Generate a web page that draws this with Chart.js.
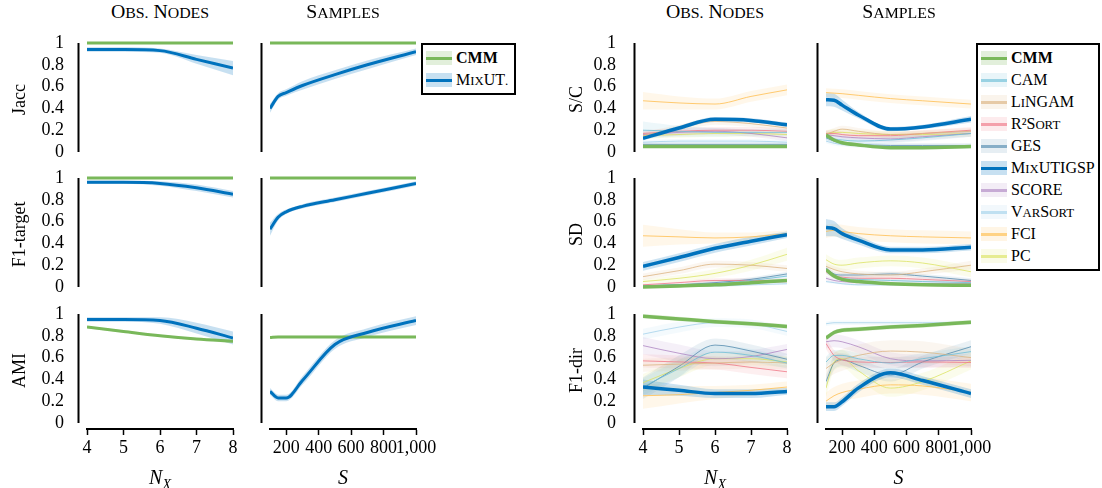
<!DOCTYPE html>
<html>
<head>
<meta charset="utf-8">
<script src="https://cdn.jsdelivr.net/npm/chart.js@4.4.1/dist/chart.umd.min.js"></script>
<style>
  body { margin: 0; background: #fff; width: 1102px; height: 488px; overflow: hidden; position: relative; font-family: "Liberation Serif", serif; color: #000; }
  canvas { position: absolute; }
  .sc { font-size: 80%; text-transform: uppercase; }
  .hdr { position: absolute; top: 2px; line-height: 20px; font-size: 18px; transform: translateX(-50%) scaleX(1.1); white-space: nowrap; }
  .xt { position: absolute; top: 466px; line-height: 22px; font-size: 20px; font-style: italic; transform: translateX(-50%); white-space: nowrap; }
  .xt sub { font-size: 14px; vertical-align: -5px; }
  .lg { position: absolute; border: 2.5px solid #000; background: #fff; box-sizing: border-box; }
  .it { position: absolute; height: 22px; left: 0; right: 0; font-size: 16px; line-height: 22px; white-space: nowrap; }
  .sw { position: absolute; top: 4px; height: 14px; }
  .sw .ln { position: absolute; left: 0; right: 0; top: 5.5px; height: 3px; }
  .it > span { position: absolute; }
</style>
</head>
<body>
<script>
// x values
const nodes = [4, 5, 6, 7, 8];
const samples = [100, 150, 200, 300, 500, 700, 1000];

// tick labels
const yTicks = [0, 0.2, 0.4, 0.6, 0.8, 1];
const yTickLabels = ["0", "0.2", "0.4", "0.6", "0.8", "1"];
const nodeTicks = [4, 5, 6, 7, 8];
const nodeTickLabels = ["4", "5", "6", "7", "8"];
const sampleTicks = [200, 400, 600, 800, 1000];
const sampleTickLabels = ["200", "400", "600", "800", "1,000"];

// left group: CMM vs MixUT.
const leftNames = ["CMM", "MixUT."];
const jaccNodesCMM = [1, 1, 1, 1, 1];
const jaccNodesMix = [0.94, 0.94, 0.93, 0.85, 0.77];
const jaccNodesMixErr = [0.02, 0.02, 0.02, 0.04, 0.065];
const jaccSamplesCMM = [1, 1, 1, 1, 1, 1, 1];
const jaccSamplesMix = [0.40, 0.51, 0.545, 0.61, 0.71, 0.80, 0.92];
const jaccSamplesMixErr = [0.04, 0.03, 0.03, 0.04, 0.04, 0.04, 0.03];

const f1tNodesCMM = [1, 1, 1, 1, 1];
const f1tNodesMix = [0.96, 0.96, 0.95, 0.91, 0.85];
const f1tNodesMixErr = [0.015, 0.015, 0.02, 0.03, 0.03];
const f1tSamplesCMM = [1, 1, 1, 1, 1, 1, 1];
const f1tSamplesMix = [0.53, 0.64, 0.69, 0.74, 0.80, 0.86, 0.95];
const f1tSamplesMixErr = [0.06, 0.03, 0.02, 0.02, 0.02, 0.02, 0.02];

const amiNodesCMM = [0.88, 0.84, 0.80, 0.77, 0.75];
const amiNodesMix = [0.95, 0.95, 0.94, 0.87, 0.78];
const amiNodesMixErr = [0.02, 0.02, 0.03, 0.05, 0.06];
const amiSamplesCMM = [0.785, 0.79, 0.79, 0.79, 0.79, 0.79, 0.79];
const amiSamplesMix = [0.29, 0.23, 0.23, 0.39, 0.72, 0.83, 0.94];
const amiSamplesMixErr = [0.03, 0.03, 0.03, 0.04, 0.04, 0.04, 0.04];

// right group: all methods, rows follow rightNames
const rightNames = ["CMM", "CAM", "LiNGAM", "R²Sort", "GES", "MixUTIGSP", "SCORE", "VarSort", "FCI", "PC"];

const scNodes = [
  [0.05, 0.05, 0.05, 0.05, 0.05],
  [0.20, 0.19, 0.18, 0.18, 0.18],
  [0.15, 0.22, 0.28, 0.26, 0.22],
  [0.17, 0.19, 0.20, 0.20, 0.19],
  [0.07, 0.07, 0.07, 0.07, 0.07],
  [0.125, 0.22, 0.30, 0.29, 0.25],
  [0.16, 0.18, 0.19, 0.17, 0.13],
  [0.09, 0.10, 0.10, 0.10, 0.09],
  [0.47, 0.45, 0.44, 0.51, 0.57],
  [0.15, 0.16, 0.17, 0.17, 0.16]
];
const scNodesErr = [
  [0.01, 0.01, 0.01, 0.01, 0.01],
  [0.08, 0.05, 0.04, 0.03, 0.03],
  [0.03, 0.03, 0.03, 0.03, 0.03],
  [0.03, 0.03, 0.03, 0.03, 0.03],
  [0.02, 0.02, 0.02, 0.02, 0.02],
  [0.02, 0.02, 0.02, 0.02, 0.02],
  [0.03, 0.03, 0.03, 0.03, 0.03],
  [0.02, 0.02, 0.02, 0.02, 0.02],
  [0.08, 0.06, 0.05, 0.05, 0.05],
  [0.03, 0.03, 0.03, 0.03, 0.03]
];
const scSamples = [
  [0.155, 0.11, 0.085, 0.065, 0.04, 0.04, 0.05],
  [0.14, 0.12, 0.11, 0.10, 0.11, 0.13, 0.17],
  [0.16, 0.19, 0.21, 0.19, 0.16, 0.17, 0.19],
  [0.17, 0.17, 0.16, 0.15, 0.15, 0.17, 0.20],
  [0.13, 0.10, 0.08, 0.07, 0.06, 0.06, 0.06],
  [0.48, 0.475, 0.43, 0.34, 0.21, 0.23, 0.30],
  [0.16, 0.15, 0.14, 0.13, 0.12, 0.14, 0.17],
  [0.10, 0.08, 0.07, 0.06, 0.05, 0.05, 0.05],
  [0.545, 0.54, 0.535, 0.52, 0.49, 0.47, 0.44],
  [0.17, 0.18, 0.18, 0.17, 0.16, 0.16, 0.17]
];
const scSamplesErr = [
  [0.01, 0.01, 0.01, 0.01, 0.01, 0.01, 0.01],
  [0.03, 0.03, 0.03, 0.03, 0.03, 0.03, 0.03],
  [0.03, 0.03, 0.03, 0.03, 0.03, 0.03, 0.03],
  [0.03, 0.03, 0.03, 0.03, 0.03, 0.03, 0.03],
  [0.02, 0.02, 0.02, 0.02, 0.02, 0.02, 0.02],
  [0.06, 0.06, 0.05, 0.03, 0.02, 0.02, 0.03],
  [0.03, 0.03, 0.03, 0.03, 0.03, 0.03, 0.03],
  [0.02, 0.02, 0.02, 0.02, 0.02, 0.02, 0.02],
  [0.04, 0.04, 0.04, 0.04, 0.04, 0.04, 0.04],
  [0.03, 0.03, 0.03, 0.03, 0.03, 0.03, 0.03]
];

const sdNodes = [
  [0.00, 0.01, 0.02, 0.04, 0.06],
  [0.01, 0.02, 0.03, 0.06, 0.10],
  [0.095, 0.15, 0.21, 0.20, 0.17],
  [0.02, 0.04, 0.06, 0.06, 0.06],
  [0.01, 0.02, 0.04, 0.07, 0.12],
  [0.19, 0.27, 0.355, 0.42, 0.48],
  [0.01, 0.02, 0.03, 0.04, 0.05],
  [0.00, 0.01, 0.01, 0.02, 0.03],
  [0.47, 0.46, 0.45, 0.46, 0.49],
  [0.05, 0.08, 0.125, 0.20, 0.30]
];
const sdNodesErr = [
  [0.01, 0.01, 0.01, 0.01, 0.01],
  [0.01, 0.01, 0.02, 0.02, 0.02],
  [0.03, 0.03, 0.03, 0.03, 0.03],
  [0.01, 0.01, 0.02, 0.02, 0.02],
  [0.01, 0.01, 0.02, 0.02, 0.02],
  [0.04, 0.04, 0.04, 0.04, 0.03],
  [0.01, 0.01, 0.01, 0.01, 0.01],
  [0.01, 0.01, 0.01, 0.01, 0.01],
  [0.10, 0.07, 0.05, 0.04, 0.03],
  [0.02, 0.03, 0.04, 0.05, 0.06]
];
const sdSamples = [
  [0.16, 0.10, 0.07, 0.05, 0.03, 0.02, 0.015],
  [0.15, 0.10, 0.08, 0.07, 0.06, 0.05, 0.04],
  [0.19, 0.16, 0.14, 0.12, 0.11, 0.14, 0.20],
  [0.14, 0.10, 0.09, 0.08, 0.08, 0.07, 0.05],
  [0.17, 0.12, 0.11, 0.11, 0.12, 0.10, 0.06],
  [0.545, 0.535, 0.49, 0.43, 0.34, 0.34, 0.365],
  [0.08, 0.06, 0.05, 0.04, 0.03, 0.03, 0.03],
  [0.05, 0.04, 0.03, 0.02, 0.02, 0.02, 0.01],
  [0.51, 0.52, 0.51, 0.49, 0.47, 0.46, 0.45],
  [0.25, 0.21, 0.20, 0.22, 0.24, 0.22, 0.14]
];
const sdSamplesErr = [
  [0.02, 0.02, 0.01, 0.01, 0.01, 0.01, 0.01],
  [0.03, 0.02, 0.02, 0.02, 0.02, 0.02, 0.02],
  [0.03, 0.03, 0.03, 0.03, 0.03, 0.03, 0.04],
  [0.02, 0.02, 0.02, 0.02, 0.02, 0.02, 0.02],
  [0.03, 0.02, 0.02, 0.02, 0.02, 0.02, 0.02],
  [0.08, 0.07, 0.05, 0.04, 0.03, 0.03, 0.03],
  [0.02, 0.02, 0.02, 0.02, 0.02, 0.02, 0.02],
  [0.01, 0.01, 0.01, 0.01, 0.01, 0.01, 0.01],
  [0.06, 0.06, 0.06, 0.06, 0.06, 0.06, 0.06],
  [0.05, 0.05, 0.05, 0.05, 0.05, 0.05, 0.05]
];

const f1dNodes = [
  [0.98, 0.955, 0.93, 0.91, 0.885],
  [0.33, 0.50, 0.65, 0.62, 0.55],
  [0.53, 0.54, 0.55, 0.56, 0.55],
  [0.57, 0.56, 0.55, 0.51, 0.47],
  [0.32, 0.52, 0.715, 0.66, 0.585],
  [0.33, 0.30, 0.27, 0.27, 0.29],
  [0.71, 0.64, 0.59, 0.61, 0.675],
  [0.815, 0.88, 0.92, 0.91, 0.84],
  [0.25, 0.26, 0.28, 0.30, 0.33],
  [0.37, 0.50, 0.59, 0.59, 0.56]
];
const f1dNodesErr = [
  [0.02, 0.02, 0.02, 0.02, 0.02],
  [0.08, 0.08, 0.06, 0.06, 0.05],
  [0.06, 0.06, 0.06, 0.06, 0.06],
  [0.06, 0.06, 0.06, 0.06, 0.06],
  [0.10, 0.10, 0.06, 0.06, 0.05],
  [0.07, 0.05, 0.04, 0.04, 0.03],
  [0.08, 0.08, 0.07, 0.06, 0.05],
  [0.05, 0.05, 0.04, 0.04, 0.04],
  [0.12, 0.08, 0.06, 0.05, 0.05],
  [0.08, 0.08, 0.06, 0.06, 0.05]
];
const f1dSamples = [
  [0.78, 0.83, 0.85, 0.86, 0.88, 0.895, 0.925],
  [0.56, 0.62, 0.62, 0.59, 0.55, 0.59, 0.655],
  [0.50, 0.55, 0.58, 0.62, 0.66, 0.65, 0.60],
  [0.73, 0.62, 0.58, 0.56, 0.555, 0.56, 0.555],
  [0.38, 0.55, 0.58, 0.53, 0.44, 0.56, 0.70],
  [0.15, 0.15, 0.195, 0.32, 0.46, 0.39, 0.27],
  [0.745, 0.755, 0.745, 0.70, 0.59, 0.57, 0.575],
  [0.91, 0.92, 0.92, 0.92, 0.92, 0.92, 0.92],
  [0.20, 0.25, 0.28, 0.31, 0.35, 0.34, 0.28],
  [0.32, 0.56, 0.59, 0.48, 0.32, 0.38, 0.57]
];
const f1dSamplesErr = [
  [0.02, 0.02, 0.02, 0.02, 0.02, 0.02, 0.02],
  [0.05, 0.05, 0.05, 0.05, 0.05, 0.05, 0.05],
  [0.10, 0.10, 0.10, 0.10, 0.10, 0.10, 0.08],
  [0.05, 0.05, 0.05, 0.05, 0.05, 0.05, 0.05],
  [0.06, 0.06, 0.06, 0.06, 0.06, 0.06, 0.06],
  [0.04, 0.04, 0.04, 0.04, 0.04, 0.04, 0.04],
  [0.06, 0.06, 0.06, 0.06, 0.06, 0.06, 0.06],
  [0.02, 0.02, 0.02, 0.02, 0.02, 0.02, 0.02],
  [0.08, 0.08, 0.08, 0.08, 0.08, 0.08, 0.08],
  [0.08, 0.08, 0.08, 0.08, 0.08, 0.08, 0.08]
];

// colours
const green = [121, 184, 90];
const blue = [0, 114, 189];
const rightColors = [green, [110, 190, 215], [220, 180, 130], [240, 120, 135], [85, 140, 175],
  blue, [175, 135, 195], [165, 210, 235], [255, 190, 80], [220, 228, 100]];
const rightThick = [true, false, false, false, false, true, false, false, false, false];

const FONT = "'Liberation Serif', serif";
const PPU = 109; // px per unit of y
const rowTop = [43, 178, 314]; // pixel of y = 1
const cols = [
  { left: 87, right: 233, yw: 87, pad: 15, tpad: 9 },
  { left: 270, right: 416, yw: 20 },
  { left: 643, right: 787, yw: 88, pad: 19, tpad: 11 },
  { left: 826, right: 971, yw: 26 }
];

function rgba(c, a) {
  return "rgba(" + c[0] + "," + c[1] + "," + c[2] + "," + a + ")";
}

// separated y axis line like pgfplots
const yAxisLine = {
  id: "yAxisLine",
  afterDraw(chart) {
    const { ctx, chartArea, scales } = chart;
    const x0 = chartArea.left - 8.5;
    ctx.save();
    ctx.strokeStyle = "#000";
    ctx.lineWidth = 2;
    ctx.beginPath();
    ctx.moveTo(x0, scales.y.getPixelForValue(yTicks[yTicks.length - 1]));
    ctx.lineTo(x0, scales.y.getPixelForValue(yTicks[0]));
    ctx.stroke();
    ctx.restore();
  }
};

function buildSets(xs, series) {
  const thick = [], thin = [], bands = [];
  series.forEach(function (s) {
    const line = {
      data: xs.map((x, i) => ({ x: x, y: s.mean[i] })),
      borderColor: rgba(s.color, s.thick ? 1 : 0.8),
      borderWidth: s.thick ? s.w : 1,
      pointRadius: 0,
      fill: false,
      cubicInterpolationMode: "monotone"
    };
    (s.thick ? thick : thin).push(line);
    bands.push({
      data: xs.map((x, i) => ({ x: x, y: s.mean[i] + s.err[i] })),
      borderWidth: 0, pointRadius: 0, fill: false, cubicInterpolationMode: "monotone"
    });
    bands.push({
      data: xs.map((x, i) => ({ x: x, y: s.mean[i] - s.err[i] })),
      borderWidth: 0, pointRadius: 0, fill: "-1",
      backgroundColor: rgba(s.color, s.bandAlpha),
      cubicInterpolationMode: "monotone"
    });
  });
  return thick.reverse().concat(thin, bands);
}

function panel(ci, ri, xs, xTicks, xLabels, series, yTitle) {
  const c = cols[ci];
  const showX = ri === 2;
  const padTop = 14 - 0.02 * PPU;
  const areaH = 1.075 * PPU;
  const xh = showX ? 60 : 0;
  const H = showX ? 189 : 133;
  const W = c.yw + (c.right - c.left) + 30;
  const cv = document.createElement("canvas");
  cv.width = W;
  cv.height = H;
  cv.style.left = (c.left - c.yw) + "px";
  cv.style.top = (rowTop[ri] - 14) + "px";
  document.body.appendChild(cv);
  const hasLabels = !!yTitle;

  new Chart(cv, {
    type: "line",
    data: { datasets: buildSets(xs, series) },
    options: {
      responsive: false,
      animation: false,
      devicePixelRatio: 1,
      layout: { padding: { top: padTop, bottom: H - padTop - areaH - xh, left: 0, right: 30 } },
      plugins: { legend: { display: false }, tooltip: { enabled: false }, filler: { drawTime: "beforeDatasetsDraw" } },
      scales: {
        x: {
          type: "linear",
          display: showX,
          min: xs[0],
          max: xs[xs.length - 1],
          afterBuildTicks: s => { s.ticks = xTicks.map(v => ({ value: v })); },
          afterFit: s => { s.height = xh; s.paddingLeft = 0; s.paddingRight = 0; },
          ticks: {
            autoSkip: false, maxRotation: 0, minRotation: 0, padding: 2, color: "#000",
            font: { family: FONT, size: 18 },
            callback: (v, i) => xLabels[i]
          },
          grid: { display: true, drawOnChartArea: false, drawTicks: true, tickLength: 6, tickWidth: 1.5, tickColor: "#000" },
          border: { display: true, color: "#000", width: 2 }
        },
        y: {
          min: -0.055,
          max: 1.02,
          afterBuildTicks: s => { s.ticks = yTicks.map(v => ({ value: v })); },
          afterFit: s => { s.width = c.yw; s.paddingTop = 0; s.paddingBottom = 0; },
          ticks: {
            display: hasLabels, autoSkip: false, padding: c.pad || 10, color: "#000",
            font: { family: FONT, size: 18 },
            callback: (v, i) => yTickLabels[i]
          },
          grid: { display: false },
          border: { display: false },
          title: {
            display: hasLabels, text: yTitle || "", color: "#000",
            font: { family: FONT, size: 18 },
            padding: { top: c.tpad || 0, bottom: 0 }
          }
        }
      }
    },
    plugins: [yAxisLine]
  });
}

function leftSeries(cmm, cmmErr, mix, mixErr) {
  return [
    { mean: cmm, err: cmmErr, color: green, thick: true, w: 3, bandAlpha: 0.22 },
    { mean: mix, err: mixErr, color: blue, thick: true, w: 3, bandAlpha: 0.22 }
  ];
}
function rightSeries(means, errs) {
  return means.map((m, i) => ({
    mean: m, err: errs[i], color: rightColors[i], thick: rightThick[i],
    w: 3.5, bandAlpha: rightThick[i] ? 0.2 : 0.12
  }));
}
const small5 = [0.005, 0.005, 0.005, 0.005, 0.005];
const small7 = [0.005, 0.005, 0.005, 0.005, 0.005, 0.005, 0.005];
const amiCmmErr5 = [0.01, 0.01, 0.01, 0.01, 0.015];
const amiCmmErr7 = [0.01, 0.01, 0.01, 0.01, 0.01, 0.01, 0.01];

panel(0, 0, nodes, nodeTicks, nodeTickLabels, leftSeries(jaccNodesCMM, small5, jaccNodesMix, jaccNodesMixErr), "Jacc");
panel(1, 0, samples, sampleTicks, sampleTickLabels, leftSeries(jaccSamplesCMM, small7, jaccSamplesMix, jaccSamplesMixErr));
panel(0, 1, nodes, nodeTicks, nodeTickLabels, leftSeries(f1tNodesCMM, small5, f1tNodesMix, f1tNodesMixErr), "F1-target");
panel(1, 1, samples, sampleTicks, sampleTickLabels, leftSeries(f1tSamplesCMM, small7, f1tSamplesMix, f1tSamplesMixErr));
panel(0, 2, nodes, nodeTicks, nodeTickLabels, leftSeries(amiNodesCMM, amiCmmErr5, amiNodesMix, amiNodesMixErr), "AMI");
panel(1, 2, samples, sampleTicks, sampleTickLabels, leftSeries(amiSamplesCMM, amiCmmErr7, amiSamplesMix, amiSamplesMixErr));

panel(2, 0, nodes, nodeTicks, nodeTickLabels, rightSeries(scNodes, scNodesErr), "S/C");
panel(3, 0, samples, sampleTicks, sampleTickLabels, rightSeries(scSamples, scSamplesErr));
panel(2, 1, nodes, nodeTicks, nodeTickLabels, rightSeries(sdNodes, sdNodesErr), "SD");
panel(3, 1, samples, sampleTicks, sampleTickLabels, rightSeries(sdSamples, sdSamplesErr));
panel(2, 2, nodes, nodeTicks, nodeTickLabels, rightSeries(f1dNodes, f1dNodesErr), "F1-dir");
panel(3, 2, samples, sampleTicks, sampleTickLabels, rightSeries(f1dSamples, f1dSamplesErr));

// small caps like LaTeX \textsc: lowercase runs shown as smaller capitals
function smallCaps(t) {
  return t.replace(/[a-z.]+/g, m => '<span class="sc">' + m + "</span>");
}

// column headers and x titles
function addText(cls, html, x) {
  const d = document.createElement("div");
  d.className = cls;
  d.innerHTML = html;
  d.style.left = x + "px";
  document.body.appendChild(d);
}
const colCenters = cols.map(c => (c.left + c.right) / 2);
["Obs. Nodes", "Samples", "Obs. Nodes", "Samples"].forEach((t, i) => addText("hdr", smallCaps(t), colCenters[i]));
["N<sub>X</sub>", "S", "N<sub>X</sub>", "S"].forEach((t, i) => addText("xt", t, colCenters[i]));

// legends
function legend(x, y, w, names, colors, thickFlags) {
  const box = document.createElement("div");
  box.className = "lg";
  box.style.left = x + "px";
  box.style.top = y + "px";
  box.style.width = w + "px";
  box.style.height = (names.length * 22 + 8) + "px";
  names.forEach(function (n, i) {
    const it = document.createElement("div");
    it.className = "it";
    it.style.top = (2 + i * 22) + "px";
    const sw = document.createElement("div");
    sw.className = "sw";
    sw.style.left = "3px";
    sw.style.width = "26px";
    sw.style.background = rgba(colors[i], thickFlags[i] ? 0.22 : 0.15);
    const ln = document.createElement("div");
    ln.className = "ln";
    ln.style.background = rgba(colors[i], thickFlags[i] ? 1 : 0.65);
    sw.appendChild(ln);
    const tx = document.createElement("span");
    tx.style.left = "33px";
    tx.style.fontWeight = i === 0 ? "bold" : "normal";
    tx.innerHTML = smallCaps(n);
    it.appendChild(sw);
    it.appendChild(tx);
    box.appendChild(it);
  });
  document.body.appendChild(box);
}
legend(421, 43, 95, leftNames, [green, blue], [true, true]);
legend(976, 43, 124, rightNames, rightColors, rightThick);
</script>
</body>
</html>
